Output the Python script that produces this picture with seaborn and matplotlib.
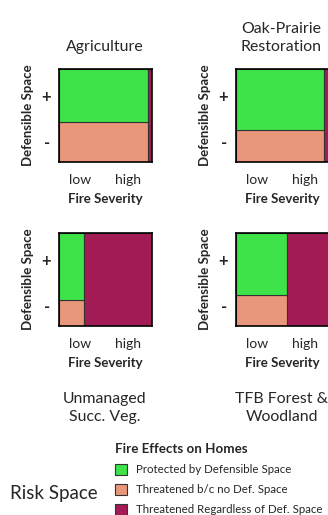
import matplotlib
matplotlib.use("Agg")
import matplotlib.pyplot as plt
from matplotlib.patches import Patch
import seaborn as sns

# Data (fractions of each risk box)
panels = ["Agriculture", "Oak-Prairie\nRestoration", "Unmanaged\nSucc. Veg.", "TFB Forest &\nWoodland"]
low_share = [0.96, 0.95, 0.27, 0.55]        # width taken by low fire severity
protected_share = [0.57, 0.66, 0.72, 0.67]  # height protected by defensible space
x_ticks = ["low", "high"]
y_ticks = ["-", "+"]
legend_labels = ["Protected by Defensible Space", "Threatened b/c no Def. Space",
                 "Threatened Regardless of Def. Space"]

colors = ["#3de348", "#e8977a", "#a31b55"]

sns.set_style("white")
plt.rcParams["font.family"] = ["Lato", "DejaVu Sans"]

fig = plt.figure(figsize=(3.28, 5.15), dpi=100)
W, H = 328, 515

# axes boxes in pixels: left, top
boxes = [(59, 69), (236, 69), (59, 233), (236, 233)]
size = 93

for i, (name, lo, prot) in enumerate(zip(panels, low_share, protected_share)):
    left, top = boxes[i]
    ax = fig.add_axes([left / W, 1 - (top + size) / H, size / W, size / H])
    ax.bar(0, 1 - prot, width=lo, align="edge", color=colors[1], edgecolor="#333333", linewidth=0.8)
    ax.bar(0, prot, bottom=1 - prot, width=lo, align="edge", color=colors[0], edgecolor="#333333", linewidth=0.8)
    ax.bar(lo, 1, width=1 - lo, align="edge", color=colors[2], edgecolor="#333333", linewidth=0.8)
    ax.set_xlim(0, 1)
    ax.set_ylim(0, 1)
    ax.set_xticks([0.23, 0.74])
    ax.set_xticklabels(x_ticks, fontsize=10)
    ax.set_yticks([0.22, 0.72])
    ax.set_yticklabels(y_ticks, fontsize=12, fontweight="bold")
    ax.tick_params(length=0, pad=6)
    ax.tick_params(axis="x", pad=9)
    ax.set_xlabel("Fire Severity", fontsize=9.5, fontweight="bold", labelpad=5)
    ax.set_ylabel("Defensible Space", fontsize=9.5, fontweight="bold", labelpad=5)
    for s in ax.spines.values():
        s.set_visible(True)
        s.set_color("black")
        s.set_linewidth(1.2)

    cx = (left + size / 2 - 1) / W
    if i < 2:
        fig.text(cx, 1 - 51 / H, name, ha="center", va="baseline", fontsize=11.4, linespacing=1.4)
    else:
        fig.text(cx, 1 - 421 / H, name, ha="center", va="baseline", fontsize=11.4, linespacing=1.4)

handles = [Patch(facecolor=c, edgecolor="#333333", linewidth=0.8) for c in colors]
leg = fig.legend(handles, legend_labels, loc="upper left", bbox_to_anchor=(115 / W, 1 - 443 / H),
                 frameon=False, fontsize=8.3, title="Fire Effects on Homes", alignment="left",
                 handlelength=1.0, handleheight=1.1, handletextpad=0.8, labelspacing=0.75,
                 borderaxespad=0, borderpad=0)
leg.get_title().set_fontweight("bold")
leg.get_title().set_fontsize(9.6)

fig.text(10 / W, 1 - 493 / H, "Risk Space", ha="left", va="center", fontsize=13.5)

fig.savefig("out.png", dpi=100)
